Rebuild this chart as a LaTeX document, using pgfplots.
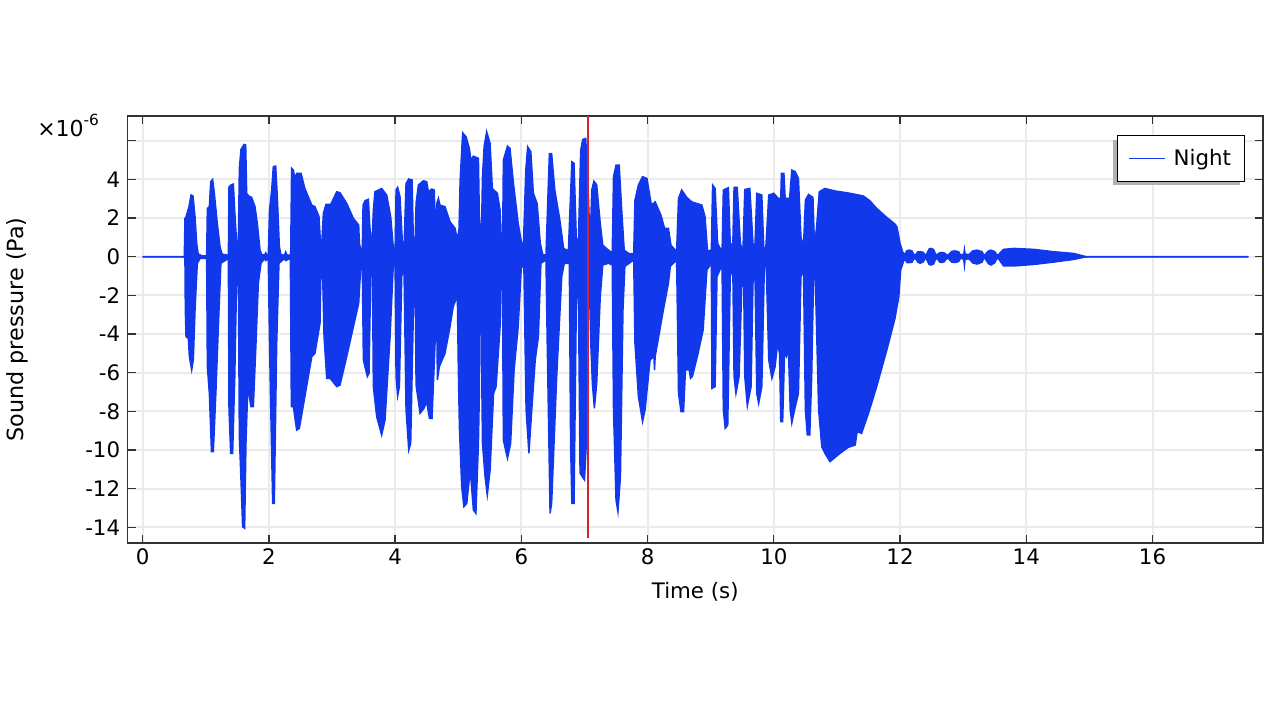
\documentclass[border=0pt]{standalone}
\usepackage{fontspec}
\setmainfont{DejaVu Sans}
\usepackage{pgfplots}
\usepgfplotslibrary{fillbetween}
\pgfplotsset{compat=1.18}
\definecolor{wave}{RGB}{18,56,236}
\definecolor{gridc}{RGB}{235,235,235}
\definecolor{frame}{RGB}{50,50,50}
\definecolor{cursor}{RGB}{214,34,44}
\pgfplotstableread{
t v
0 0.01
0.66 0.01
0.67 1.98
0.68 1.98
0.734 2.59
0.766 3.19
0.798 3.14
0.83 2.07
0.856 0.7
0.88 0.14
0.935 0.05
1.014 0.05
1.025 2.5
1.057 2.59
1.078 3.88
1.109 4.0
1.136 3.28
1.183 1.72
1.226 0.52
1.257 0.14
1.358 0.07
1.368 3.62
1.4 3.71
1.437 3.76
1.458 2.41
1.49 0.69
1.516 0.69
1.532 4.57
1.558 5.55
1.606 5.81
1.633 5.78
1.648 3.28
1.68 3.14
1.727 3.07
1.78 2.59
1.817 1.72
1.86 0.34
1.886 0.12
1.93 0.08
1.95 0.2
1.97 0.08
1.99 0.08
2.01 2.41
2.044 3.45
2.07 4.66
2.108 4.69
2.134 3.1
2.166 0.52
2.19 0.12
2.245 0.07
2.266 0.25
2.29 0.07
2.345 0.1
2.36 4.57
2.388 4.48
2.41 4.05
2.44 4.31
2.51 4.31
2.57 3.53
2.68 2.67
2.73 2.59
2.794 2.07
2.816 0.8
2.84 0.8
2.863 2.24
2.905 2.71
2.98 2.71
3.075 3.36
3.127 3.31
3.233 2.76
3.339 1.98
3.423 1.64
3.434 0.69
3.46 0.35
3.48 0.4
3.492 2.67
3.523 2.9
3.576 2.97
3.6 1.55
3.63 0.35
3.655 2.41
3.68 3.36
3.787 3.53
3.867 3.19
3.93 2.07
3.97 0.52
4.0 0.35
4.015 3.45
4.04 3.59
4.078 3.1
4.12 0.4
4.14 0.35
4.173 3.79
4.216 4.02
4.269 3.97
4.29 0.69
4.316 0.69
4.332 2.76
4.369 3.71
4.448 3.93
4.5 3.88
4.527 3.36
4.58 3.5
4.62 3.45
4.643 0.69
4.66 2.76
4.686 3.02
4.71 2.67
4.79 2.59
4.87 1.81
4.95 1.47
4.987 0.86
5.013 1.47
5.03 3.97
5.07 6.41
5.124 6.2
5.177 5.6
5.2 5.0
5.24 5.2
5.32 5.09
5.335 2.0
5.357 0.9
5.372 2.0
5.384 4.14
5.41 5.69
5.45 6.47
5.505 5.86
5.54 3.53
5.62 3.28
5.663 2.41
5.68 0.6
5.7 0.69
5.708 2.5
5.715 5.0
5.78 5.72
5.82 5.6
5.875 3.79
5.95 1.72
5.996 0.86
6.03 0.35
6.07 4.48
6.1 5.69
6.15 5.43
6.19 3.28
6.25 2.76
6.3 0.69
6.34 0.1
6.39 0.1
6.41 2.07
6.444 5.34
6.48 5.34
6.53 3.45
6.61 1.9
6.67 0.43
6.745 0.3
6.77 2.41
6.8 4.91
6.835 4.83
6.87 1.03
6.9 0.3
6.94 5.5
6.973 6.07
7.02 6.12
7.05 4.14
7.09 0.69
7.115 3.45
7.15 3.91
7.194 3.71
7.25 1.72
7.29 0.6
7.38 0.34
7.44 0.2
7.46 4.14
7.5 4.74
7.55 4.74
7.59 2.41
7.63 0.34
7.7 0.17
7.78 0.14
7.8 2.93
7.855 3.71
7.92 4.14
7.99 4.05
8.06 2.67
8.12 2.84
8.21 2.16
8.27 1.47
8.33 1.47
8.37 0.6
8.46 0.26
8.49 3.02
8.54 3.45
8.62 3.07
8.7 2.84
8.86 2.67
8.91 2.07
8.95 0.3
9.01 0.34
9.03 3.71
9.07 3.53
9.11 0.69
9.18 0.25
9.2 3.45
9.28 3.57
9.31 0.69
9.35 0.6
9.37 3.59
9.42 3.59
9.47 0.69
9.51 0.25
9.54 3.48
9.62 3.53
9.67 0.69
9.7 0.52
9.73 3.28
9.81 3.19
9.84 0.52
9.87 0.3
9.92 3.19
10.0 3.28
10.07 3.02
10.11 3.02
10.12 4.31
10.16 4.31
10.18 3.02
10.25 3.02
10.285 4.48
10.34 4.4
10.39 4.05
10.43 1.03
10.47 0.52
10.5 2.93
10.55 3.22
10.62 3.07
10.645 0.5
10.68 1.64
10.72 3.36
10.81 3.53
10.97 3.4
11.16 3.31
11.42 3.14
11.52 2.9
11.63 2.5
11.79 2.03
11.92 1.69
11.95 1.55
12.0 0.69
12.04 0.26
12.07 0.09
12.09 0.2
12.11 0.32
12.15 0.34
12.19 0.3
12.21 0.15
12.235 0.07
12.26 0.16
12.28 0.25
12.32 0.26
12.37 0.22
12.39 0.12
12.41 0.07
12.43 0.2
12.46 0.4
12.49 0.43
12.53 0.38
12.56 0.15
12.58 0.07
12.6 0.14
12.63 0.21
12.66 0.22
12.7 0.2
12.73 0.12
12.76 0.07
12.78 0.15
12.82 0.28
12.87 0.3
12.93 0.25
12.95 0.12
12.98 0.08
13.01 0.15
13.02 0.38
13.03 0.15
13.08 0.1
13.11 0.16
13.15 0.3
13.22 0.34
13.3 0.26
13.32 0.12
13.345 0.07
13.36 0.16
13.4 0.3
13.44 0.34
13.5 0.26
13.53 0.12
13.555 0.07
13.58 0.18
13.64 0.38
13.8 0.43
14.12 0.38
14.43 0.26
14.75 0.17
14.94 0.01
17.52 0.01
}\upperenv
\pgfplotstableread{
t v
0 -0.01
0.66 -0.01
0.67 -0.17
0.676 -2.76
0.687 -4.14
0.724 -4.22
0.74 -5.17
0.777 -5.86
0.803 -5.34
0.83 -2.76
0.866 -0.34
0.91 -0.09
1.014 -0.09
1.025 -5.69
1.057 -7.07
1.09 -10.09
1.12 -10.09
1.16 -7.07
1.21 -2.76
1.24 -0.34
1.358 -0.09
1.368 -7.93
1.395 -10.17
1.426 -10.17
1.46 -6.2
1.49 -1.03
1.516 -0.69
1.532 -9.31
1.558 -11.55
1.584 -13.97
1.616 -14.05
1.637 -9.66
1.675 -5.86
1.69 -7.24
1.717 -7.76
1.754 -7.76
1.796 -4.48
1.833 -1.38
1.875 -0.34
1.93 -0.1
1.95 -0.2
1.99 -0.1
2.01 -4.48
2.03 -7.93
2.06 -12.76
2.086 -12.76
2.124 -4.48
2.16 -0.34
2.245 -0.1
2.266 -0.2
2.34 -0.09
2.356 -7.76
2.388 -7.76
2.44 -8.97
2.483 -8.88
2.57 -7.24
2.68 -5.17
2.73 -5.0
2.81 -3.45
2.826 -0.5
2.85 -0.69
2.874 -4.14
2.916 -6.29
2.97 -6.29
3.075 -6.72
3.127 -6.64
3.233 -5.17
3.339 -3.62
3.423 -2.41
3.455 -0.52
3.48 -0.5
3.497 -5.34
3.56 -6.2
3.587 -6.03
3.613 -1.03
3.64 -0.5
3.655 -6.72
3.708 -8.28
3.787 -9.22
3.84 -8.45
3.92 -4.14
3.97 -0.52
4.0 -0.5
4.015 -6.2
4.04 -7.2
4.068 -6.72
4.105 -1.03
4.14 -0.5
4.173 -7.93
4.216 -10.0
4.247 -9.66
4.29 -2.76
4.316 -0.52
4.332 -6.64
4.395 -8.1
4.458 -7.84
4.5 -7.5
4.543 -8.36
4.585 -8.36
4.633 -4.48
4.65 -0.52
4.67 -6.38
4.7 -5.69
4.79 -5.0
4.87 -3.62
4.92 -2.59
4.96 -2.24
4.975 -1.03
4.986 -2.07
5.0 -5.5
5.018 -8.79
5.055 -11.9
5.09 -12.93
5.135 -12.76
5.19 -11.03
5.24 -13.1
5.28 -13.28
5.32 -9.66
5.335 -7.0
5.345 -2.2
5.365 -2.0
5.375 -7.0
5.384 -9.66
5.425 -11.38
5.46 -12.33
5.505 -11.03
5.56 -7.07
5.6 -6.72
5.663 -3.62
5.68 -0.69
5.7 -0.69
5.715 -9.48
5.78 -10.43
5.83 -9.66
5.885 -5.86
5.95 -3.62
6.0 -0.52
6.04 -0.52
6.075 -7.93
6.12 -10.17
6.165 -7.93
6.22 -5.34
6.27 -4.14
6.31 -0.34
6.39 -0.17
6.41 -4.48
6.455 -13.28
6.48 -12.76
6.56 -6.2
6.64 -1.03
6.68 -0.34
6.76 -0.34
6.78 -9.66
6.8 -12.76
6.835 -12.76
6.87 -2.76
6.9 -0.34
6.93 -11.2
7.0 -11.55
7.03 -9.66
7.07 -0.34
7.1 -4.48
7.125 -6.55
7.157 -7.84
7.194 -6.55
7.25 -2.07
7.29 -0.43
7.38 -0.34
7.44 -0.43
7.46 -7.93
7.5 -12.59
7.53 -13.19
7.57 -11.38
7.61 -2.76
7.64 -0.5
7.78 -0.17
7.8 -4.48
7.855 -7.24
7.92 -8.53
7.96 -7.93
8.04 -5.34
8.1 -5.17
8.11 -5.86
8.12 -5.17
8.25 -2.76
8.33 -1.38
8.36 -0.5
8.46 -0.17
8.49 -7.07
8.53 -8.02
8.57 -8.02
8.6 -5.86
8.66 -5.86
8.68 -6.29
8.71 -6.2
8.8 -5.0
8.88 -3.79
8.94 -0.69
9.01 -0.34
9.02 -6.81
9.07 -6.72
9.1 -1.03
9.18 -0.43
9.2 -7.93
9.23 -8.88
9.27 -8.71
9.31 -1.03
9.35 -0.52
9.37 -6.2
9.4 -7.07
9.45 -6.2
9.5 -0.69
9.52 -0.69
9.54 -6.2
9.58 -7.72
9.64 -6.72
9.67 -1.38
9.7 -0.52
9.73 -7.07
9.76 -7.59
9.81 -6.72
9.85 -0.52
9.88 -0.52
9.92 -5.34
9.97 -6.29
10.02 -5.69
10.06 -4.48
10.09 -5.0
10.11 -8.53
10.14 -8.53
10.17 -5.0
10.2 -5.17
10.23 -4.66
10.26 -7.93
10.285 -8.6
10.34 -7.76
10.39 -7.07
10.43 -1.03
10.47 -0.69
10.5 -7.93
10.53 -9.22
10.57 -9.22
10.6 -6.2
10.63 -1.03
10.655 -0.86
10.71 -7.93
10.76 -9.83
10.81 -10.17
10.89 -10.6
11.05 -10.17
11.18 -9.86
11.29 -9.74
11.32 -9.05
11.39 -9.14
11.5 -8.1
11.63 -6.72
11.79 -4.83
11.92 -3.19
11.98 -2.07
12.01 -0.69
12.07 -0.1
12.09 -0.2
12.11 -0.3
12.15 -0.31
12.19 -0.28
12.21 -0.15
12.235 -0.08
12.26 -0.16
12.28 -0.28
12.32 -0.34
12.37 -0.26
12.39 -0.12
12.41 -0.08
12.43 -0.2
12.46 -0.4
12.49 -0.43
12.53 -0.38
12.56 -0.15
12.58 -0.08
12.6 -0.14
12.63 -0.28
12.66 -0.3
12.7 -0.26
12.73 -0.12
12.76 -0.08
12.78 -0.15
12.82 -0.28
12.87 -0.3
12.93 -0.25
12.95 -0.12
12.98 -0.08
13.01 -0.15
13.02 -0.46
13.03 -0.15
13.08 -0.1
13.11 -0.16
13.15 -0.32
13.22 -0.38
13.3 -0.28
13.32 -0.12
13.345 -0.08
13.36 -0.16
13.4 -0.36
13.44 -0.43
13.5 -0.32
13.53 -0.12
13.555 -0.08
13.58 -0.2
13.64 -0.48
13.8 -0.48
14.12 -0.4
14.43 -0.28
14.75 -0.14
14.94 -0.01
17.52 -0.01
}\lowerenv
\begin{document}
\begin{tikzpicture}
\begin{axis}[
  at={(95.625pt,132.75pt)}, anchor=south west,
  scale only axis,
  width=851.6pt, height=320.25pt,
  xmin=-0.24, xmax=17.75, ymin=-14.81, ymax=7.28,
  font=\fontsize{16}{19}\selectfont,
  /pgf/number format/assume math mode=true,
  xtick={0,2,...,16},
  ytick={-14,-12,...,6},
  yticklabels={-14,-12,-10,-8,-6,-4,-2,0,2,4,{}},
  xticklabel style={yshift=-1pt},
  yticklabel style={xshift=-2pt},
  grid=major,
  major grid style={gridc, line width=1.5pt},
  tick align=inside,
  major tick length=6pt,
  major tick style={frame, line width=1pt},
  axis line style={frame, line width=1.3pt},
  xlabel={Time (s)},
  ylabel={Sound pressure (Pa)},
  xlabel style={yshift=-6pt},
  ylabel style={yshift=36pt, font=\fontsize{16.7}{19}\selectfont},
  legend style={at={(0.984,0.955)}, anchor=north east, draw=black, line width=0.8pt,
    fill=white, inner xsep=8pt, inner ysep=8.25pt, font=\fontsize{16}{19}\selectfont},
  legend cell align=left,
  legend image code/.code={\draw[wave, line width=0.8pt] (0cm,0cm) -- (0.95cm,0cm);},
]
\addlegendimage{wave, line width=0.8pt}
\addlegendentry{\hspace{4pt}Night}
\addplot[name path=up, wave, line width=1.1pt, forget plot] table[x=t,y=v] {\upperenv};
\addplot[name path=lo, wave, line width=1.1pt, forget plot] table[x=t,y=v] {\lowerenv};
\addplot[wave, forget plot] fill between[of=up and lo];
\addplot[cursor, line width=1.4pt, forget plot] coordinates {(7.057,7.28) (7.057,-14.55)};
\fill[black!30] (rel axis cs:0.868,0.838) rectangle (rel axis cs:0.980,0.944);
\end{axis}
\node[anchor=west, inner sep=0pt, font=\fontsize{16.5}{18}\selectfont] at (27.75pt,446pt) {×10\raisebox{0.5em}{\fontsize{11.5}{12}\selectfont -6}};
\path (0pt,0pt) rectangle (960pt,540pt);
\end{tikzpicture}
\end{document}
